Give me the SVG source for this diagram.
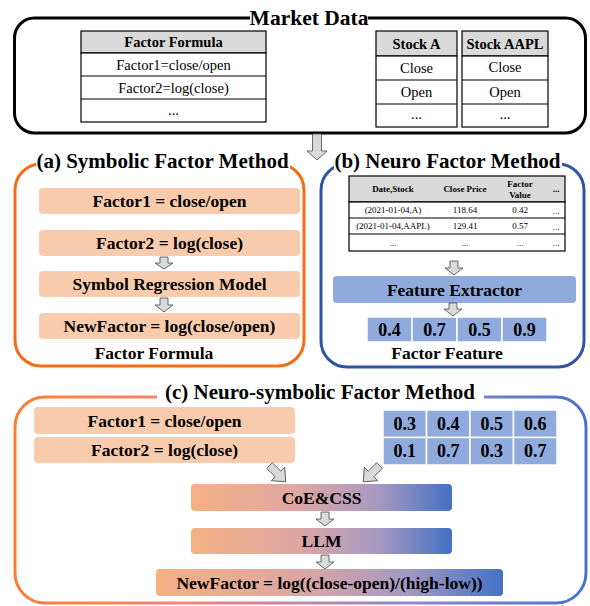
<svg xmlns="http://www.w3.org/2000/svg" width="590" height="606" viewBox="0 0 590 606">
  <defs>
    <linearGradient id="mixFill" x1="0" y1="0" x2="1" y2="0">
      <stop offset="0" stop-color="#f4b183"/>
      <stop offset="0.4" stop-color="#dfa7a2"/>
      <stop offset="0.72" stop-color="#a699c2"/>
      <stop offset="1" stop-color="#4472c4"/>
    </linearGradient>
    <linearGradient id="mixStroke" gradientUnits="userSpaceOnUse" x1="15" y1="0" x2="586" y2="0">
      <stop offset="0" stop-color="#fb7f32"/>
      <stop offset="0.3" stop-color="#f2867a"/>
      <stop offset="0.7" stop-color="#8c88cc"/>
      <stop offset="1" stop-color="#4a72cc"/>
    </linearGradient>
    <style>
      text { font-family: "Liberation Serif", "Times New Roman", serif; fill: #000; text-anchor: middle; dominant-baseline: central; }
      .b { font-weight: bold; }
      .title { font-size: 21px; font-weight: bold; }
      .tbl { font-size: 14.5px; }
      .lbl { font-size: 17.5px; font-weight: bold; }
      .num { font-size: 18px; font-weight: bold; }
      .sm { font-size: 9px; }
      .cell { fill: #fff; stroke: #000; stroke-width: 1.2; }
      .head { fill: #d9d9d9; stroke: #000; stroke-width: 1.2; }
      .rule { stroke: #000; stroke-width: 1.2; }
      .peach { fill: #f8cbad; }
      .blue { fill: #8faadc; }
      .grid { fill: #8faadc; stroke: #fff; stroke-width: 1.5; }
      .mix { fill: url(#mixFill); }
      .blk { fill: #d9d9d9; stroke: #595959; stroke-width: 0.9; stroke-linejoin: miter; }
      .mask { fill: #fff; }
    </style>
  </defs>

  <!-- Market data panel -->
  <g id="market-data">
    <rect x="14.5" y="18" width="571" height="115" rx="20" fill="none" stroke="#000" stroke-width="3"/>
    <rect class="mask" x="250" y="6" width="118" height="24"/>
    <text class="b" x="309" y="18" font-size="21.5">Market Data</text>
  </g>

  <g id="factor-formula-table">
    <rect class="head" x="81" y="31" width="185" height="22"/>
    <rect class="cell" x="81" y="53" width="185" height="69"/>
    <line class="rule" x1="81" y1="76" x2="266" y2="76"/>
    <line class="rule" x1="81" y1="99" x2="266" y2="99"/>
    <text class="tbl b" x="173.5" y="42">Factor Formula</text>
    <text class="tbl" x="173.5" y="64.5">Factor1=close/open</text>
    <text class="tbl" x="173.5" y="87.5">Factor2=log(close)</text>
    <text class="tbl" x="173.5" y="110">...</text>
  </g>

  <g id="stock-a-table">
    <rect class="head" x="376" y="31" width="81" height="25"/>
    <rect class="cell" x="376" y="56" width="81" height="71"/>
    <line class="rule" x1="376" y1="80" x2="457" y2="80"/>
    <line class="rule" x1="376" y1="104" x2="457" y2="104"/>
    <text class="tbl b" x="416.5" y="44" font-size="14">Stock A</text>
    <text class="tbl" x="416.5" y="68">Close</text>
    <text class="tbl" x="416.5" y="92">Open</text>
    <text class="tbl" x="416.5" y="114">...</text>
  </g>

  <g id="stock-aapl-table">
    <rect class="head" x="462" y="31" width="86" height="25"/>
    <rect class="cell" x="462" y="56" width="86" height="71"/>
    <line class="rule" x1="462" y1="80" x2="548" y2="80"/>
    <line class="rule" x1="462" y1="104" x2="548" y2="104"/>
    <text class="tbl b" x="505" y="43.5" font-size="14">Stock AAPL</text>
    <text class="tbl" x="505" y="67">Close</text>
    <text class="tbl" x="505" y="92">Open</text>
    <text class="tbl" x="505" y="114">...</text>
  </g>

  <!-- (a) symbolic panel -->
  <g id="symbolic-panel">
    <rect x="15" y="164" width="289" height="202" rx="26" fill="none" stroke="#f96a16" stroke-width="3"/>
    <rect class="mask" x="36" y="149" width="254" height="24"/>
    <text class="title" x="162.5" y="161">(a) Symbolic Factor Method</text>
    <text class="lbl" x="154" y="353">Factor Formula</text>
  </g>
  <g id="a-factor1">
    <rect class="peach" x="39" y="188" width="261" height="26" rx="4"/>
    <text class="lbl" x="169.5" y="201">Factor1 = close/open</text>
  </g>
  <g id="a-factor2">
    <rect class="peach" x="39" y="230" width="261" height="26" rx="4"/>
    <text class="lbl" x="169.5" y="243">Factor2 = log(close)</text>
  </g>
  <g id="a-regression">
    <rect class="peach" x="39" y="271" width="261" height="26" rx="4"/>
    <text class="lbl" x="169.5" y="284">Symbol Regression Model</text>
  </g>
  <g id="a-newfactor">
    <rect class="peach" x="39" y="313" width="261" height="26" rx="4"/>
    <text class="lbl" x="169.5" y="326">NewFactor = log(close/open)</text>
  </g>

  <!-- (b) neuro panel -->
  <g id="neuro-panel">
    <rect x="321" y="164" width="263" height="203" rx="26" fill="none" stroke="#2f55a0" stroke-width="3"/>
    <rect class="mask" x="334" y="149" width="228" height="24"/>
    <text class="title" x="447.5" y="161">(b) Neuro Factor Method</text>
    <text class="lbl" x="447" y="353">Factor Feature</text>
  </g>
  <g id="b-data-table">
    <rect class="head" x="349" y="176" width="216" height="26"/>
    <rect class="cell" x="349" y="202" width="216" height="49"/>
    <line class="rule" x1="349" y1="218" x2="565" y2="218"/>
    <line class="rule" x1="349" y1="234" x2="565" y2="234"/>
    <text class="sm b" x="393" y="189">Date,Stock</text>
    <text class="sm b" x="465" y="189">Close Price</text>
    <text class="sm b" x="520" y="184">Factor</text>
    <text class="sm b" x="520" y="195">Value</text>
    <text class="sm b" x="556" y="189">...</text>
    <text class="sm" x="393" y="210">(2021-01-04,A)</text>
    <text class="sm" x="465" y="210">118.64</text>
    <text class="sm" x="520" y="210">0.42</text>
    <text class="sm" x="556" y="211">...</text>
    <text class="sm" x="393" y="226">(2021-01-04,AAPL)</text>
    <text class="sm" x="465" y="226">129.41</text>
    <text class="sm" x="520" y="226">0.57</text>
    <text class="sm" x="556" y="227">...</text>
    <text class="sm" x="393" y="243">...</text>
    <text class="sm" x="465" y="243">...</text>
    <text class="sm" x="520" y="243">...</text>
    <text class="sm" x="556" y="243">...</text>
  </g>
  <g id="b-extractor">
    <rect class="blue" x="333" y="276" width="243" height="27" rx="4"/>
    <text class="lbl" x="454.5" y="289.5">Feature Extractor</text>
  </g>
  <g id="b-features">
    <rect class="grid" x="367" y="317" width="45" height="25"/>
    <rect class="grid" x="412" y="317" width="45" height="25"/>
    <rect class="grid" x="457" y="317" width="45" height="25"/>
    <rect class="grid" x="502" y="317" width="45" height="25"/>
    <text class="num" x="389.5" y="329.5">0.4</text>
    <text class="num" x="434.5" y="329.5">0.7</text>
    <text class="num" x="479.5" y="329.5">0.5</text>
    <text class="num" x="524.5" y="329.5">0.9</text>
  </g>

  <!-- (c) neuro-symbolic panel -->
  <g id="neuro-symbolic-panel">
    <rect x="15" y="397" width="571" height="206" rx="30" fill="none" stroke="url(#mixStroke)" stroke-width="3"/>
    <rect class="mask" x="157" y="382" width="327" height="24"/>
    <text class="title" x="320" y="392">(c) Neuro-symbolic Factor Method</text>
  </g>
  <g id="c-factor1">
    <rect class="peach" x="34" y="407" width="261" height="27" rx="4"/>
    <text class="lbl" x="164.5" y="420.5">Factor1 = close/open</text>
  </g>
  <g id="c-factor2">
    <rect class="peach" x="34" y="437" width="261" height="26" rx="4"/>
    <text class="lbl" x="164.5" y="450">Factor2 = log(close)</text>
  </g>
  <g id="c-features">
    <rect class="grid" x="383" y="410" width="43.5" height="27.5"/>
    <rect class="grid" x="426.5" y="410" width="43.5" height="27.5"/>
    <rect class="grid" x="470" y="410" width="43.5" height="27.5"/>
    <rect class="grid" x="513.5" y="410" width="43.5" height="27.5"/>
    <rect class="grid" x="383" y="437.5" width="43.5" height="27.5"/>
    <rect class="grid" x="426.5" y="437.5" width="43.5" height="27.5"/>
    <rect class="grid" x="470" y="437.5" width="43.5" height="27.5"/>
    <rect class="grid" x="513.5" y="437.5" width="43.5" height="27.5"/>
    <text class="num" x="404.75" y="423.5">0.3</text>
    <text class="num" x="448.25" y="423.5">0.4</text>
    <text class="num" x="491.75" y="423.5">0.5</text>
    <text class="num" x="535.25" y="423.5">0.6</text>
    <text class="num" x="404.75" y="451">0.1</text>
    <text class="num" x="448.25" y="451">0.7</text>
    <text class="num" x="491.75" y="451">0.3</text>
    <text class="num" x="535.25" y="451">0.7</text>
  </g>
  <g id="c-coe-css">
    <rect class="mix" x="191" y="484" width="261" height="27" rx="4"/>
    <text class="lbl" x="321.5" y="497.5">CoE&amp;CSS</text>
  </g>
  <g id="c-llm">
    <rect class="mix" x="191" y="528" width="261" height="26" rx="4"/>
    <text class="lbl" x="321.5" y="541">LLM</text>
  </g>
  <g id="c-newfactor">
    <rect class="mix" x="156" y="569" width="347" height="27" rx="4"/>
    <text class="lbl" x="329.5" y="582.5">NewFactor = log((close-open)/(high-low))</text>
  </g>

  <!-- block arrows between stages -->
  <g id="connectors">
    <polygon class="blk" points="312.5,134 321.5,134 321.5,151 327,151 317,160 307,151 312.5,151"/>
    <polygon class="blk" points="160,257 168,257 168,263 173,263 164,269 155,263 160,263"/>
    <polygon class="blk" points="160,298 168,298 168,305 173,305 164,312 155,305 160,305"/>
    <polygon class="blk" points="450,261 458,261 458,268 463,268 454,275 445,268 450,268"/>
    <polygon class="blk" points="449,303 457,303 457,309 462,309 453,316 444,309 449,309"/>
    <polygon class="blk" points="321,512 329,512 329,519 334,519 325,526 316,519 321,519"/>
    <polygon class="blk" points="321,555 329,555 329,562 334,562 325,569 316,562 321,562"/>
    <polygon class="blk" transform="translate(278,474) rotate(-45)" points="-4,-12 4,-12 4,0 9.5,0 0,11 -9.5,0 -4,0"/>
    <polygon class="blk" transform="translate(371,474) rotate(45)" points="-4,-12 4,-12 4,0 9.5,0 0,11 -9.5,0 -4,0"/>
  </g>
</svg>
